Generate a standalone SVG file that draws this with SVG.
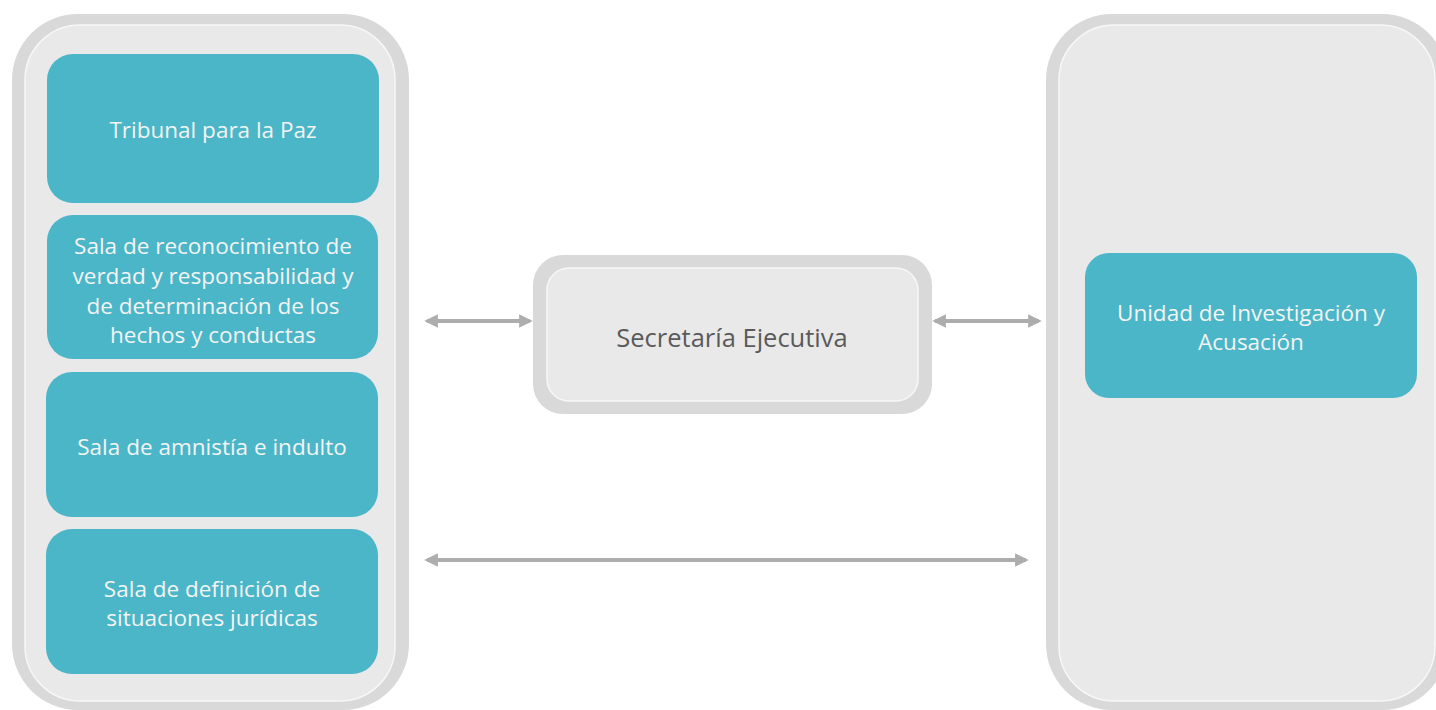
<svg xmlns="http://www.w3.org/2000/svg" width="1436" height="710" viewBox="0 0 1436 710">
<defs>
<style>
.outer{fill:#d9d9d9}
.inner{fill:#e9e9e9;stroke:#f7f7f7;stroke-width:1.5}
.teal{fill:#4ab6c7}
.wt{font-family:"Open Sans","Noto Sans",sans-serif;font-size:22.5px;fill:#f4f4f4;text-anchor:middle}
.gt{font-family:"Open Sans","Noto Sans",sans-serif;font-size:25.5px;fill:#5a5a5a;text-anchor:middle}
.conn{stroke:#adadad;stroke-width:4;fill:none;marker-start:url(#ah);marker-end:url(#ah)}
</style>
<marker id="ah" viewBox="0 0 10 10" refX="8" refY="5" markerWidth="3.5" markerHeight="3.4" orient="auto-start-reverse" markerUnits="strokeWidth">
<path d="M0,0 L10,5 L0,10 Z" fill="#adadad"/>
</marker>
</defs>
<rect width="1436" height="710" fill="#ffffff"/>
<g id="left-container">
<rect class="outer" x="12" y="14" width="397" height="696" rx="66"/>
<rect class="inner" x="25" y="25" width="370" height="676" rx="55"/>
</g>
<g id="right-container">
<rect class="outer" x="1046" y="14" width="402" height="696" rx="66"/>
<rect class="inner" x="1059" y="25" width="376" height="676" rx="55"/>
</g>
<g id="tribunal">
<rect class="teal" x="47" y="54" width="332" height="149" rx="26"/>
<text class="wt" x="213" y="138">Tribunal para la Paz</text>
</g>
<g id="sala-reconocimiento">
<rect class="teal" x="47" y="215" width="331" height="144" rx="26"/>
<text class="wt" x="213" y="254">Sala de reconocimiento de</text>
<text class="wt" x="213" y="284">verdad y responsabilidad y</text>
<text class="wt" x="213" y="314">de determinación de los</text>
<text class="wt" x="213" y="343">hechos y conductas</text>
</g>
<g id="sala-amnistia">
<rect class="teal" x="46" y="372" width="332" height="145" rx="26"/>
<text class="wt" x="212" y="455">Sala de amnistía e indulto</text>
</g>
<g id="sala-definicion">
<rect class="teal" x="46" y="529" width="332" height="145" rx="26"/>
<text class="wt" x="212" y="597">Sala de definición de</text>
<text class="wt" x="212" y="626">situaciones jurídicas</text>
</g>
<g id="secretaria">
<rect class="outer" x="533" y="255" width="399" height="159" rx="30"/>
<rect class="inner" x="547" y="268" width="371" height="133" rx="22"/>
<text class="gt" x="732" y="347">Secretaría Ejecutiva</text>
</g>
<g id="unidad">
<rect class="teal" x="1085" y="253" width="332" height="145" rx="24"/>
<text class="wt" x="1251" y="321">Unidad de Investigación y</text>
<text class="wt" x="1251" y="350">Acusación</text>
</g>
<g id="connectors">
<line class="conn" x1="427" y1="321" x2="530" y2="321"/>
<line class="conn" x1="935" y1="321" x2="1039" y2="321"/>
<line class="conn" x1="427" y1="560" x2="1026" y2="560"/>
</g>
</svg>
